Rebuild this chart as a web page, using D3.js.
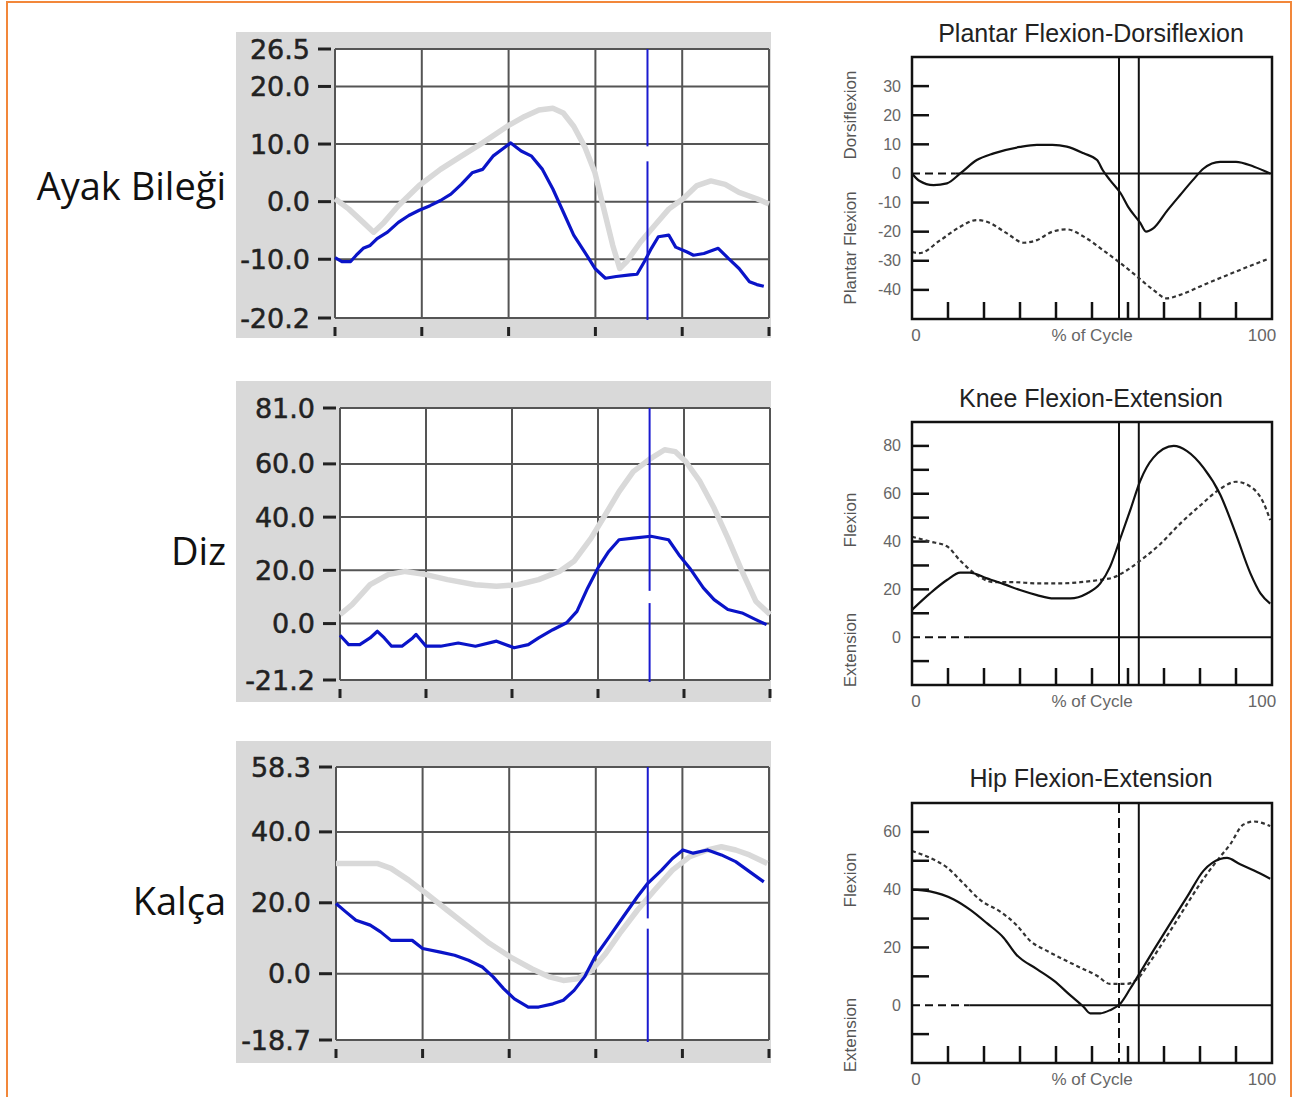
<!DOCTYPE html>
<html>
<head>
<meta charset="utf-8">
<script src="https://cdn.jsdelivr.net/npm/d3@7"></script>
<style>
  body { margin: 0; background: #fff; }
  svg { display: block; }
</style>
</head>
<body>
<svg id="chart" width="1297" height="1097"></svg>
<script>
// ---- data (percent of gait cycle, degrees) ----
var rowLabels = ["Ayak Bileği", "Diz", "Kalça"];
var leftTicks = [
  [26.5, 20, 10, 0, -10, -20.2],
  [81, 60, 40, 20, 0, -21.2],
  [58.3, 40, 20, 0, -18.7]
];
var leftXTicks = [0, 20, 40, 60, 80, 100];
var leftMarker = 72;
var markerGaps = [[7.0, 9.6], [7.7, 12.3], [12.7, 15.6]];

// ankle: blue = measured, gray = reference
var ankleBlue = [[0,-9.7],[1.6,-10.4],[3.6,-10.4],[4.9,-9.3],[6.5,-8.1],[8.1,-7.6],[9.7,-6.4],[12.1,-5.3],[14.6,-3.6],[17,-2.4],[19.4,-1.5],[21.9,-0.7],[24.3,0.2],[26.7,1.3],[29.1,3],[31.6,5],[34,5.6],[36.4,7.9],[38.9,9.3],[40.5,10.2],[42.9,8.8],[45.3,7.9],[47.8,5.6],[50.2,2.2],[52.6,-1.8],[55,-5.8],[57.5,-8.7],[59.9,-11.6],[62.3,-13.3],[64.8,-13],[68,-12.7],[69.6,-12.6],[71.3,-10.4],[72.9,-8.1],[74.5,-6.1],[76.9,-5.8],[78.5,-7.9],[81,-8.7],[82.6,-9.3],[85,-9],[88.3,-8.1],[90.7,-9.9],[93.1,-11.6],[95.5,-13.9],[97.2,-14.4],[98.8,-14.7]];
var ankleGray = [[0,0.5],[3.2,-1.3],[6.5,-3.6],[8.9,-5.3],[11.3,-3.6],[14.6,-0.7],[19.4,2.8],[24.3,5.6],[29.1,7.9],[34,10.2],[39.7,13.1],[43.7,14.8],[47,15.9],[50.2,16.2],[52.6,15.4],[55,13.1],[57.5,9.6],[59.9,5],[62.3,-2.4],[64,-7.6],[65.6,-11.6],[67.2,-10.4],[70.4,-7],[73.7,-4.1],[76.9,-1.3],[80.2,0.5],[83.4,2.8],[86.6,3.6],[89.9,3],[93.1,1.6],[97.2,0.5],[100,-0.4]];
var kneeBlue = [[0,-4.4],[2,-7.9],[4.6,-7.9],[7,-5.4],[8.7,-2.9],[10.3,-5.4],[12,-8.5],[14.4,-8.5],[16.9,-5.4],[17.7,-4.1],[20,-8.5],[23.4,-8.5],[27.5,-7.3],[31.5,-8.5],[36.4,-6.6],[40.5,-9.1],[43.8,-7.9],[46.2,-5.4],[49.5,-2.3],[52.7,0.3],[55.1,4.6],[57.6,13.4],[60,20.9],[62.5,27.1],[64.9,31.5],[68.2,32.1],[72.3,32.8],[76.4,31.5],[78.8,25.9],[81.3,20.9],[84.5,13.4],[87,9],[90.2,5.3],[93.5,4],[96.7,1.5],[99.2,-0.4]];
var kneeGray = [[0,3.4],[2.8,7.1],[7,14.6],[11.2,18.4],[15.2,19.6],[20,18.4],[25,16.5],[31.5,14.6],[36.4,14],[41.3,14.6],[46.2,16.5],[51,19.6],[54.4,23.4],[58.4,32.1],[61.7,40.9],[64.9,49.6],[68.2,57.1],[72.3,62.1],[75.5,65.3],[78,64.6],[80.4,60.9],[83.7,53.4],[87,43.4],[90.2,32.1],[93.5,19.6],[96.7,8.4],[100,3.4]];
var hipBlue = [[0,19.8],[2.2,17.5],[4.6,15.1],[7.9,13.7],[10.3,11.8],[12.7,9.4],[17.6,9.4],[20,7.1],[24.1,6.1],[27.4,5.2],[30.6,3.8],[33.8,1.9],[36.3,-0.9],[38.7,-4.2],[41.2,-7.1],[44.4,-9.4],[46.8,-9.4],[50.1,-8.5],[52.5,-7.5],[55,-4.7],[57.4,-0.9],[59.8,4.7],[63.1,10.4],[66.3,16],[69.6,21.7],[72,25.5],[75.2,29.2],[77.7,32.5],[80.1,34.9],[82.5,34],[85.8,34.9],[89,33.5],[92.3,31.6],[95.5,28.8],[98.8,25.9]];
var hipGray = [[0,31.1],[3.8,31.1],[9.5,31.1],[12.7,29.7],[16.8,26.4],[20.9,22.6],[25.7,17.9],[30.6,13.2],[35.5,8.5],[40.3,4.7],[45.2,1.4],[49.3,-0.9],[52.5,-1.9],[55.8,-1.4],[59,0.9],[62.3,5.7],[65.5,11.3],[69.6,17.9],[73.6,23.6],[77.7,29.2],[81.7,33],[85.8,34.9],[89,35.8],[92.3,34.9],[95.5,33.5],[99.6,31.1]];

// right-hand reference plots
var refTitles = ["Plantar Flexion-Dorsiflexion", "Knee Flexion-Extension", "Hip Flexion-Extension"];
var refDomains = [[-50, 40], [-20, 90], [-20, 70]];
var refLabelTicks = [[30, 20, 10, 0, -10, -20, -30, -40], [80, 60, 40, 20, 0], [60, 40, 20, 0]];
var refMinorTicks = [[30, 20, 10, -10, -20, -30, -40], [80, 70, 60, 50, 40, 30, 20, 10, -10], [60, 50, 40, 30, 20, 10, -10]];
var refAxisNames = [["Dorsiflexion", "Plantar Flexion"], ["Flexion", "Extension"], ["Flexion", "Extension"]];
var refXTicks = [10, 20, 30, 40, 50, 60, 70, 80, 90];
var refEvents = [57.5, 63];
var refZeroDash = [12, 16, 16];

var ankleSolid = [[0,0],[2,-2.5],[6,-4],[9.7,-3.4],[13.4,0],[18,4.6],[22.7,6.9],[30,9.1],[34.7,9.8],[39,9.8],[43,9.2],[47.7,6.9],[51.4,4.6],[53,1.1],[55,-2.3],[58,-6.9],[60,-11.4],[63.4,-17],[65,-20],[67,-18.9],[71,-12.6],[74.5,-7.4],[78,-2.3],[81,1.7],[85.6,4],[90,4],[95,2.3],[99.5,0]];
var ankleDashed = [[0,-27],[2,-27.4],[7.9,-22.9],[13.4,-18.3],[18,-16],[20.8,-16.6],[26.4,-20.6],[31,-23.8],[34.7,-22.9],[39,-20],[43,-19.2],[47.7,-21.7],[53,-26.3],[58,-30.9],[62.5,-35.4],[67,-40],[70.8,-42.9],[74.5,-41.7],[81,-38.3],[90,-33.7],[98.6,-29.5]];
var kneeSolid = [[0,11.4],[5,18.3],[9.7,23.9],[13.4,27],[16,27],[20.8,24.6],[25.5,22.2],[30,19.7],[34.7,17.6],[39.4,16.2],[44,16.2],[48.6,18.3],[52.3,22.5],[55,29.4],[58,41.9],[60.6,53],[63.4,65.4],[67,75],[72.7,80],[76.4,77.8],[81,70.8],[85.6,59.7],[90,43],[94,26.7],[96.8,18.3],[99.5,14]];
var kneeDashed = [[0,42],[5,40],[9.7,38],[13.4,32],[18,26],[22.7,23],[28,23],[34.7,22.5],[41,22.5],[46.8,23],[52.3,24],[56,25],[59.7,28],[63.4,32],[69,39],[74.5,47.5],[80,55],[85.6,62],[90,65],[94,63],[97.7,56],[99.5,49]];
var hipSolid = [[0,40],[5,39.4],[11.6,36.6],[16.2,33],[20.8,28.4],[25.5,23.3],[29,17.5],[34.7,12.5],[39.4,8.5],[44,3.4],[47.7,-0.6],[49.5,-2.8],[52.3,-2.8],[55,-1.7],[57.9,0.6],[60.6,5.7],[63.4,11.4],[67,18.8],[71.8,28.4],[76.4,37.5],[81,46.6],[85.6,50.6],[87.5,51],[91,48.9],[95,46.6],[99.5,43.8]];
var hipDashed = [[0,53.4],[5,51],[9.7,47.7],[14.4,42],[19,36.4],[24.5,32.4],[29,27.8],[32.9,22.2],[37.5,18.8],[42,15.9],[46.8,13],[51.4,10.2],[55,7.4],[59.7,7.4],[62.5,9],[66,14.8],[70.8,23.9],[75.4,33],[80,42],[84.7,50],[88.4,55.7],[92,62.5],[95,63.6],[99.5,62]];

var leftSeries = [[ankleGray, ankleBlue], [kneeGray, kneeBlue], [hipGray, hipBlue]];
var refSeries = [[ankleSolid, ankleDashed], [kneeSolid, kneeDashed], [hipSolid, hipDashed]];

// ---- layout ----
var svg = d3.select("#chart");

svg.append("rect")
  .attr("x", 7).attr("y", 2).attr("width", 1284).attr("height", 1110)
  .attr("fill", "none").attr("stroke", "#f2873a").attr("stroke-width", 2);

var leftBoxes = [
  {bx: 236, by: 32, bw: 535, bh: 306, x0: 335, x1: 769, y0: 49, y1: 318, labelY: 185},
  {bx: 236, by: 381, bw: 535, bh: 321, x0: 340, x1: 770, y0: 408, y1: 680, labelY: 550},
  {bx: 236, by: 741, bw: 535, bh: 322, x0: 336, x1: 769, y0: 767, y1: 1040, labelY: 900}
];

leftBoxes.forEach(function (b, i) {
  var ticks = leftTicks[i];
  var x = d3.scaleLinear().domain([0, 100]).range([b.x0, b.x1]);
  var y = d3.scaleLinear().domain([d3.min(ticks), d3.max(ticks)]).range([b.y1, b.y0]);
  var g = svg.append("g");

  g.append("rect").attr("x", b.bx).attr("y", b.by).attr("width", b.bw).attr("height", b.bh)
    .attr("fill", "#d9d9d9");
  g.append("rect").attr("x", b.x0).attr("y", b.y0).attr("width", b.x1 - b.x0).attr("height", b.y1 - b.y0)
    .attr("fill", "#fff");

  // row label
  svg.append("text").attr("x", 226).attr("y", b.labelY)
    .attr("text-anchor", "end").attr("dominant-baseline", "central")
    .attr("font-family", "Open Sans, sans-serif").attr("font-size", 38).attr("fill", "#111")
    .text(rowLabels[i]);

  // grid
  g.selectAll(".hg").data(ticks).enter().append("line")
    .attr("x1", b.x0).attr("x2", b.x1)
    .attr("y1", function (d) { return y(d); }).attr("y2", function (d) { return y(d); })
    .attr("stroke", "#555").attr("stroke-width", 2);
  g.selectAll(".vg").data(leftXTicks).enter().append("line")
    .attr("x1", function (d) { return x(d); }).attr("x2", function (d) { return x(d); })
    .attr("y1", b.y0).attr("y2", b.y1)
    .attr("stroke", "#555").attr("stroke-width", 2);

  // tick dashes + labels
  g.selectAll(".yt").data(ticks).enter().append("line")
    .attr("x1", b.x0 - 17).attr("x2", b.x0 - 4)
    .attr("y1", function (d) { return y(d); }).attr("y2", function (d) { return y(d); })
    .attr("stroke", "#222").attr("stroke-width", 3);
  g.selectAll(".yl").data(ticks).enter().append("text")
    .attr("x", b.x0 - 25).attr("y", function (d) { return y(d); })
    .attr("text-anchor", "end").attr("dominant-baseline", "central")
    .attr("font-family", "DejaVu Sans, sans-serif").attr("font-size", 27).attr("fill", "#222")
    .attr("stroke", "#222").attr("stroke-width", 0.5)
    .text(function (d) { return d.toFixed(1); });
  g.selectAll(".xt").data(leftXTicks).enter().append("line")
    .attr("x1", function (d) { return x(d); }).attr("x2", function (d) { return x(d); })
    .attr("y1", b.y1 + 9).attr("y2", b.y1 + 18)
    .attr("stroke", "#222").attr("stroke-width", 3);

  var line = d3.line().x(function (d) { return x(d[0]); }).y(function (d) { return y(d[1]); });
  g.append("path").attr("d", line(leftSeries[i][0]))
    .attr("fill", "none").attr("stroke", "#d9d9d9").attr("stroke-width", 5.5)
    .attr("stroke-linejoin", "round");
  g.append("path").attr("d", line(leftSeries[i][1]))
    .attr("fill", "none").attr("stroke", "#0a14c8").attr("stroke-width", 3.2)
    .attr("stroke-linejoin", "round");

  // event marker with its little break
  var gap = markerGaps[i];
  [[y(gap[1]), b.y0], [b.y1 + 2, y(gap[0])]].forEach(function (seg) {
    g.append("line").attr("x1", x(leftMarker)).attr("x2", x(leftMarker))
      .attr("y1", seg[0]).attr("y2", seg[1])
      .attr("stroke", "#1a1ad0").attr("stroke-width", 2);
  });
});

var refBoxes = [
  {x0: 912, x1: 1272, y0: 57, y1: 319, titleY: 33, nameY: [115, 248]},
  {x0: 912, x1: 1272, y0: 422, y1: 685, titleY: 398, nameY: [520, 650]},
  {x0: 912, x1: 1272, y0: 803, y1: 1063, titleY: 778, nameY: [880, 1035]}
];
var smallFont = "Liberation Sans, Arial, sans-serif";

refBoxes.forEach(function (b, i) {
  var x = d3.scaleLinear().domain([0, 100]).range([b.x0, b.x1]);
  var y = d3.scaleLinear().domain(refDomains[i]).range([b.y1, b.y0]);
  var g = svg.append("g");

  g.append("text").attr("x", 1091).attr("y", b.titleY)
    .attr("text-anchor", "middle").attr("dominant-baseline", "central")
    .attr("font-family", smallFont).attr("font-size", 25).attr("fill", "#222")
    .text(refTitles[i]);

  // zero line: dashed start then solid
  g.append("line").attr("x1", x(0)).attr("x2", x(refZeroDash[i])).attr("y1", y(0)).attr("y2", y(0))
    .attr("stroke", "#111").attr("stroke-width", 2).attr("stroke-dasharray", "8,5");
  g.append("line").attr("x1", x(refZeroDash[i])).attr("x2", x(100)).attr("y1", y(0)).attr("y2", y(0))
    .attr("stroke", "#111").attr("stroke-width", 2);

  // events
  refEvents.forEach(function (e, k) {
    g.append("line").attr("x1", x(e)).attr("x2", x(e)).attr("y1", b.y0).attr("y2", b.y1)
      .attr("stroke", "#111").attr("stroke-width", 2)
      .attr("stroke-dasharray", (i === 2 && k === 0) ? "10,5" : null);
  });

  g.selectAll(".yt").data(refMinorTicks[i]).enter().append("line")
    .attr("x1", b.x0).attr("x2", b.x0 + 17)
    .attr("y1", function (d) { return y(d); }).attr("y2", function (d) { return y(d); })
    .attr("stroke", "#111").attr("stroke-width", 2.5);
  g.selectAll(".yl").data(refLabelTicks[i]).enter().append("text")
    .attr("x", b.x0 - 11).attr("y", function (d) { return y(d); })
    .attr("text-anchor", "end").attr("dominant-baseline", "central")
    .attr("font-family", smallFont).attr("font-size", 16).attr("fill", "#666")
    .text(function (d) { return d; });
  g.selectAll(".xt").data(refXTicks).enter().append("line")
    .attr("x1", function (d) { return x(d); }).attr("x2", function (d) { return x(d); })
    .attr("y1", b.y1).attr("y2", b.y1 - 17)
    .attr("stroke", "#111").attr("stroke-width", 2.5);

  var xl = [["0", "middle", b.x0 + 4], ["% of Cycle", "middle", 1092], ["100", "middle", b.x1 - 10]];
  xl.forEach(function (t) {
    g.append("text").attr("x", t[2]).attr("y", b.y1 + 16)
      .attr("text-anchor", t[1]).attr("dominant-baseline", "central")
      .attr("font-family", smallFont).attr("font-size", 17).attr("fill", "#666")
      .text(t[0]);
  });

  refAxisNames[i].forEach(function (name, k) {
    g.append("text").attr("transform", "translate(850," + b.nameY[k] + ") rotate(-90)")
      .attr("text-anchor", "middle").attr("dominant-baseline", "central")
      .attr("font-family", smallFont).attr("font-size", 17).attr("fill", "#555")
      .text(name);
  });

  var line = d3.line().curve(d3.curveMonotoneX)
    .x(function (d) { return x(d[0]); }).y(function (d) { return y(d[1]); });
  g.append("path").attr("d", line(refSeries[i][1]))
    .attr("fill", "none").attr("stroke", "#333").attr("stroke-width", 2.2)
    .attr("stroke-dasharray", "4,3");
  g.append("path").attr("d", line(refSeries[i][0]))
    .attr("fill", "none").attr("stroke", "#111").attr("stroke-width", 2.2);

  g.append("rect").attr("x", b.x0).attr("y", b.y0).attr("width", b.x1 - b.x0).attr("height", b.y1 - b.y0)
    .attr("fill", "none").attr("stroke", "#111").attr("stroke-width", 2.5);
});
</script>
</body>
</html>
